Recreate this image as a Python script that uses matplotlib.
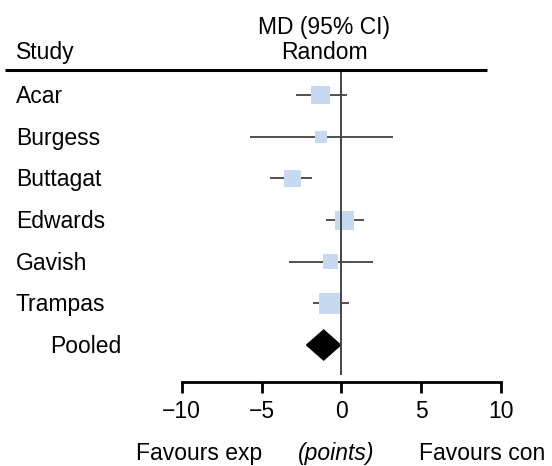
import matplotlib
matplotlib.use("Agg")
import matplotlib.pyplot as plt
from matplotlib.patches import Polygon
import numpy as np

plt.rcParams['font.family'] = ['Liberation Sans', 'DejaVu Sans']
plt.rcParams['font.size'] = 16.5

# study data (mean difference, 95% CI, weight %)
studies = ['Acar', 'Burgess', 'Buttagat', 'Edwards', 'Gavish', 'Trampas']
md = [-1.33, -1.3, -3.08, 0.18, -0.68, -0.72]
ci_lo = [-2.85, -5.73, -4.48, -0.99, -3.29, -1.77]
ci_hi = [0.33, 3.25, -1.85, 1.39, 1.95, 0.45]
weights = [19.8, 7.9, 15.9, 19.8, 12.4, 24.2]

pooled_label = 'Pooled'
pooled_md = -1.11
pooled_lo = -2.18
pooled_hi = -0.05

xticks = [-10, -5, 0, 5, 10]

W, H = 552, 466
fig = plt.figure(figsize=(W / 100, H / 100), dpi=100)
ax = fig.add_axes([0, 0, 1, 1])

# pixel layout -> data units
px_per_x = (501 - 181.7) / 20
x0_px = 341.4
row0_px = 95
row_px = 41.67
ax.set_xlim(-x0_px / px_per_x, (W - x0_px) / px_per_x)
ax.set_ylim((H - row0_px) / row_px, -row0_px / row_px)

def py(p):
    return (p - row0_px) / row_px

def px(p):
    return (p - x0_px) / px_per_x

rows = np.arange(len(studies))
box_color = '#c6d9f1'

# CI lines
ax.hlines(rows, ci_lo, ci_hi, color='#222222', lw=1.1, zorder=2)
# boxes sized by weight
side_px = 21 * np.sqrt(np.array(weights) / max(weights))
ax.scatter(md, rows, marker='s', s=(side_px * 0.72) ** 2, color=box_color,
           edgecolors='none', zorder=3)

# pooled diamond
prow = len(studies)
h = 15 / row_px
diamond = Polygon([(pooled_lo, prow), (pooled_md, prow - h), (pooled_hi, prow),
                   (pooled_md, prow + h)], closed=True, color='black', zorder=4)
ax.add_patch(diamond)

# line of no effect
ax.vlines(0, py(70), py(375), color='#444444', lw=1.4, zorder=5)

# header line
ax.hlines(py(70), px(5), px(487), color='black', lw=2.2, zorder=5)

# labels
lbl_x = px(16)
for i, s in enumerate(studies):
    ax.text(lbl_x, i + 0.19, s, ha='left', va='baseline')
ax.text(px(50), prow + 0.19, pooled_label, ha='left', va='baseline')

# headers
ax.text(lbl_x, py(59), 'Study', ha='left', va='baseline')
ax.text(px(324), py(34), 'MD (95% CI)', ha='center', va='baseline')
ax.text(px(324), py(58.5), 'Random', ha='center', va='baseline')

# x axis
for k in ['top', 'left', 'right']:
    ax.spines[k].set_visible(False)
ax.spines['bottom'].set_position(('data', py(382)))
ax.spines['bottom'].set_bounds(-10, 10)
ax.spines['bottom'].set_linewidth(2)
ax.set_xticks(xticks)
ax.set_xticklabels([str(t).replace('-', '\u2212') for t in xticks])
ax.tick_params(axis='x', direction='out', length=8, width=2, pad=5)
ax.set_yticks([])

# bottom captions
ax.text(px(199), py(460), 'Favours exp', ha='center', va='baseline')
ax.text(px(336), py(460), '(points)', ha='center', va='baseline', style='italic')
ax.text(px(419), py(460), 'Favours con', ha='left', va='baseline')

fig.savefig('out.png', dpi=100)
